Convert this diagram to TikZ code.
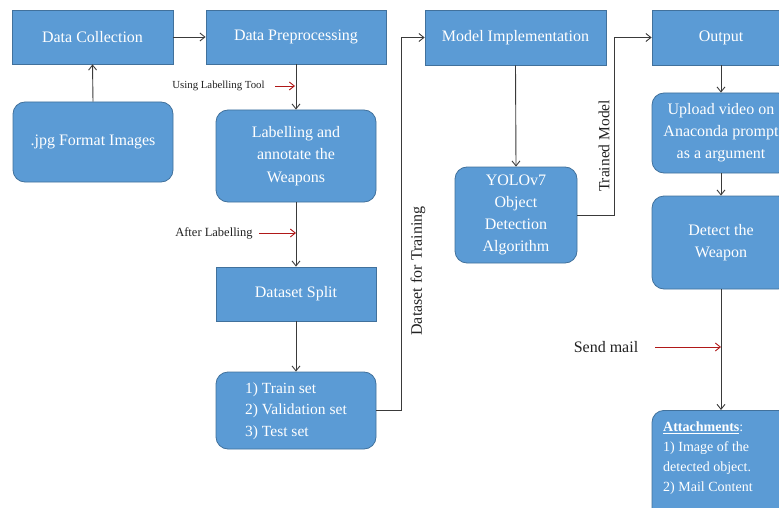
\documentclass[tikz,border=0pt]{standalone}
\usepackage{fontspec}
\setmainfont{Liberation Serif}
\usetikzlibrary{arrows.meta}
\definecolor{boxfill}{HTML}{5B9BD5}
\definecolor{boxline}{HTML}{41719C}
\definecolor{connline}{HTML}{3A3A3A}
\definecolor{redarrow}{HTML}{B01818}
\definecolor{labeltext}{HTML}{222222}
\begin{document}
\begin{tikzpicture}[x=1pt,y=-1pt,
  sqbox/.style={draw=boxline, line width=0.8pt, fill=boxfill, text=white, align=center,
    font=\fontsize{16}{22}\selectfont, inner sep=0pt},
  rbox/.style={sqbox, rounded corners=12pt},
  conn/.style={draw=connline, line width=0.9pt, -{Straight Barb[length=5pt,width=8pt]}},
  redarr/.style={draw=redarrow, line width=0.9pt, -{Straight Barb[length=5pt,width=8pt]}},
  lbl/.style={text=labeltext, inner sep=0pt}
]
\useasboundingbox (0,0) rectangle (779,508);
\clip (0,0) rectangle (779,508);

% boxes
\node[sqbox, minimum width=161pt, minimum height=54pt] (dc) at (92.5,37) {Data Collection};
\node[sqbox, minimum width=180pt, minimum height=54pt] (dp) at (296,37) {Data Preprocessing};
\node[rbox, minimum width=160pt, minimum height=80pt] (jpg) at (93,142) {.jpg Format Images};
\node[rbox, minimum width=160pt, minimum height=92pt, font=\fontsize{16}{22.5}\selectfont] (lab) at (296,156) {Labelling and\\annotate the\\Weapons};
\node[sqbox, minimum width=160pt, minimum height=54pt] (split) at (296,294) {Dataset Split};
\node[rbox, minimum width=160pt, minimum height=77pt, font=\fontsize{15.5}{22}\selectfont] (train) at (296,410.5)
  {\begin{tabular}{@{}l@{}}1) Train set\\[-0.5pt]2) Validation set\\[-0.5pt]3) Test set\end{tabular}};
\node[sqbox, minimum width=181pt, minimum height=55pt] (mi) at (515.5,37.5) {Model Implementation};
\node[rbox, minimum width=122pt, minimum height=96pt] (yolo) at (516,215) {YOLOv7\\Object\\Detection\\Algorithm};
\node[sqbox, minimum width=138pt, minimum height=55pt] (out) at (721,37.5) {Output};
\node[rbox, minimum width=138pt, minimum height=80pt] (up) at (721,133) {Upload video on\\Anaconda prompt\\as a argument};
\node[rbox, minimum width=138pt, minimum height=93pt] (det) at (721,242.5) {Detect the\\Weapon};
\node[rbox, minimum width=138pt, minimum height=120pt, anchor=north] (att) at (721,410) {};
\node[text=white, align=left, anchor=north west, inner sep=0pt, font=\fontsize{14}{19.8}\selectfont] (atttext) at (663,422)
  {\underline{\textbf{Attachments}}:\\1) Image of the\\detected object.\\2) Mail Content};

% labels
\node[lbl, font=\fontsize{10.8}{12}\selectfont] (ult) at (218.5,86) {Using Labelling Tool};
\node[lbl, font=\fontsize{12.5}{14}\selectfont] (afl) at (214,233) {After Labelling};
\node[lbl, font=\fontsize{16}{18}\selectfont] (sm) at (606,347) {Send mail};
\node[lbl, font=\fontsize{16}{18}\selectfont, rotate=90] (dft) at (418,271) {Dataset for Training};
\node[lbl, font=\fontsize{15.5}{18}\selectfont, rotate=90] (tm) at (604,146) {Trained Model};

% connectors
\draw[conn] (dc.east) -- (dp.west);
\draw[conn] (jpg.north) -- (dc.south);
\draw[conn] (dp.south) -- (lab.north);
\draw[conn] (lab.south) -- (split.north);
\draw[conn] (split.south) -- (train.north);
\draw[conn] (train.east) -- ++(25,0) |- (mi.west);
\draw[conn] (mi.south) -- (yolo.north);
\draw[conn] (yolo.east) -- ++(37,0) |- (out.west);
\draw[conn] (out.south) -- (up.north);
\draw[conn] (up.south) -- (det.north);
\draw[conn] (det.south) -- (att.north);

% red arrows
\coordinate (r1a) at (275,86);  \coordinate (r1b) at (295,86);
\coordinate (r2a) at (259,233); \coordinate (r2b) at (296,233);
\coordinate (r3a) at (655,347); \coordinate (r3b) at (721,347);
\draw[redarr] (r1a) -- (r1b);
\draw[redarr] (r2a) -- (r2b);
\draw[redarr] (r3a) -- (r3b);
\end{tikzpicture}
\end{document}
